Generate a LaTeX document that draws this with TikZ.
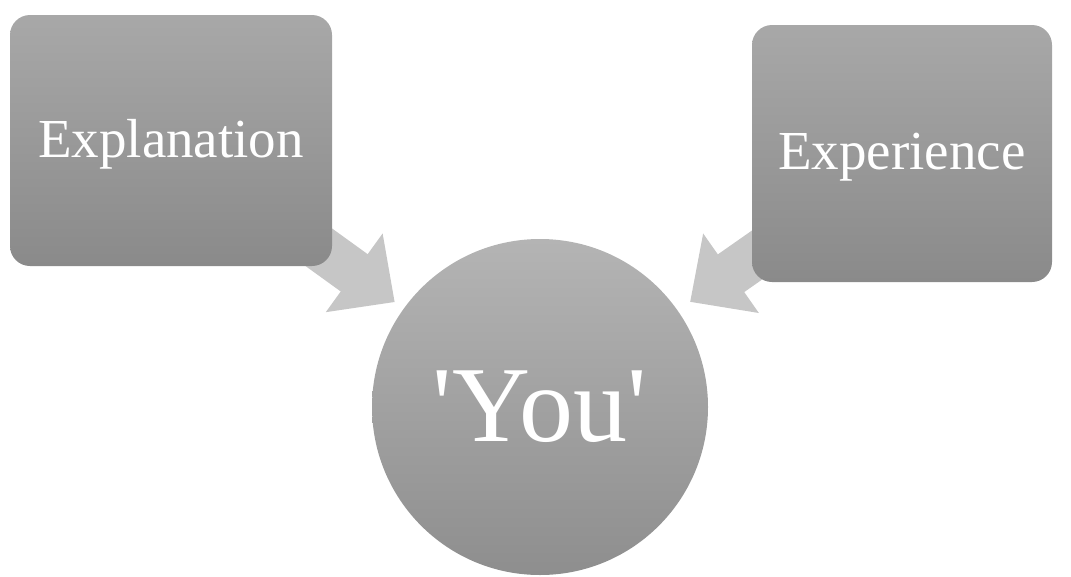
\documentclass[tikz,border=0pt]{standalone}
\usepackage{fontspec}
\setmainfont{Liberation Serif}
\usepackage{tikz}
\usetikzlibrary{shapes, positioning, arrows.meta, backgrounds}
\definecolor{boxtop}{HTML}{A8A8A8}
\definecolor{boxbot}{HTML}{8A8A8A}
\definecolor{ringtop}{HTML}{B4B4B4}
\definecolor{ringbot}{HTML}{8E8E8E}
\definecolor{pointer}{HTML}{C6C6C6}

\begin{document}
\begin{tikzpicture}[
    x = 1pt, y = -1pt,
    bubble/.style = {
      rectangle, rounded corners = 20pt, draw = none,
      top color = boxtop, bottom color = boxbot,
      text = white, inner sep = 0pt,
      font = \fontsize{55}{60}\selectfont
    },
    self/.style = {
      circle, draw = none, minimum size = 336pt, inner sep = 0pt,
      top color = ringtop, bottom color = ringbot,
      text = white, font = \fontsize{108}{110}\selectfont
    },
    pointer/.style = {
      draw = pointer, line width = 46pt,
      -{Triangle[length = 50pt, width = 94pt]}
    },
    ]

    \useasboundingbox  (0,0)  rectangle  (1071,576);

    % draw the two boxes and the circle
    \node  [bubble, minimum width = 322pt, minimum height = 251pt]  (expl)  at  (171,140.5)  {\raisebox{-4pt}[\height][\depth]{Explanation}};
    \node  [bubble, minimum width = 300pt, minimum height = 257pt]  (exper)  at  (902,153.5)  {\raisebox{-4pt}[\height][\depth]{Experience}};
    \node  [self]  (you)  at  (540,407)  {\textquotesingle You\textquotesingle};

    % draw arrows behind the boxes
    \begin{scope}[on background layer]
    \draw  [pointer, shorten >= 11pt]  (expl.center)  to  (you);
    \draw  [pointer, shorten >= 15pt]  (exper.center)  to  (you);
    \end{scope}
\end{tikzpicture}
\end{document}
